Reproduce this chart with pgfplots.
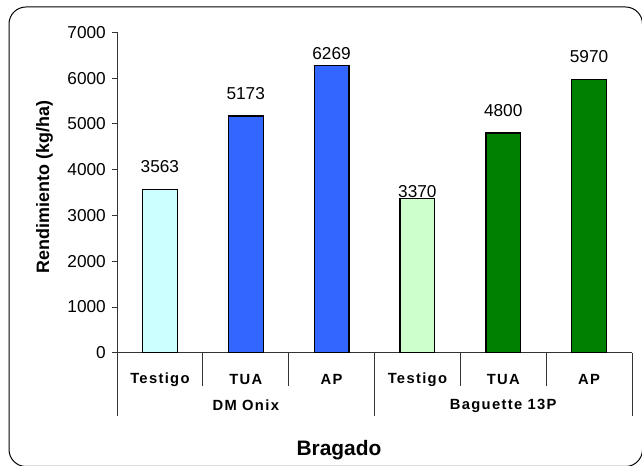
\documentclass[border=0pt]{standalone}
\usepackage{fontspec}
\setmainfont{Liberation Sans}
\newfontfamily\spaced[LetterSpace=9]{Liberation Sans}
\usepackage{pgfplots}
\pgfplotsset{compat=1.18}
\definecolor{c1}{HTML}{CCFFFF}
\definecolor{c2}{HTML}{3366FF}
\definecolor{c3}{HTML}{CCFFCC}
\definecolor{c4}{HTML}{008000}
\begin{document}
\begin{tikzpicture}
\path[use as bounding box] (0,0) rectangle (642bp,466bp);
\draw[line width=1bp, rounded corners=17bp] (9bp,459bp) rectangle (642.5bp,-0.5bp);
\begin{axis}[
  at={(117bp,113.3bp)}, anchor=south west,
  scale only axis, width=515bp, height=320.4bp,
  xmin=-0.5, xmax=5.5, ymin=0, ymax=7000,
  axis lines*=left,
  axis line style={black!80, line width=0.8bp},
  clip=false,
  ytick={0,1000,...,7000},
  ytick style={black!80, line width=0.8bp},
  tick align=outside, major tick length=4.7bp,
  xtick={0,...,5},
  xticklabels={Testigo,TUA,AP,Testigo,TUA,AP},
  xtick style={draw=none},
  /pgf/number format/1000 sep={},
  /pgf/number format/assume math mode=true,
  yticklabel style={font=\fontsize{17.3}{19}\selectfont, anchor=east, xshift=-3bp},
  xticklabel style={font=\spaced\bfseries\fontsize{14.8}{16}\selectfont, anchor=center, yshift=-22.3bp},
  every node near coord/.append style={font=\fontsize{17.3}{19}\selectfont, anchor=center, text=black},
]
\addplot[ybar, bar width=34.7bp, fill=c1, draw=black, line width=1.2bp, nodes near coords,
  every node near coord/.append style={yshift=22.6bp}] coordinates {(0,3563)};
\addplot[ybar, bar width=34.7bp, fill=c2, draw=black, line width=1.2bp, nodes near coords,
  every node near coord/.append style={yshift=22.6bp}] coordinates {(1,5173)};
\addplot[ybar, bar width=34.7bp, fill=c2, draw=black, line width=1.2bp, nodes near coords,
  every node near coord/.append style={yshift=12.5bp}] coordinates {(2,6269)};
\addplot[ybar, bar width=34.7bp, fill=c3, draw=black, line width=1.2bp, nodes near coords,
  every node near coord/.append style={yshift=6.8bp}] coordinates {(3,3370)};
\addplot[ybar, bar width=34.7bp, fill=c4, draw=black, line width=1.2bp, nodes near coords,
  every node near coord/.append style={yshift=22.6bp}] coordinates {(4,4800)};
\addplot[ybar, bar width=34.7bp, fill=c4, draw=black, line width=1.2bp, nodes near coords,
  every node near coord/.append style={yshift=22.6bp}] coordinates {(5,5970)};
% category separators
\pgfplotsinvokeforeach{0.5,1.5,3.5,4.5}{
  \draw[black!80, line width=0.8bp] (axis cs:#1,0) -- ([yshift=-33bp]axis cs:#1,0);
}
\pgfplotsinvokeforeach{-0.5,2.5,5.5}{
  \draw[black!80, line width=0.8bp] (axis cs:#1,0) -- ([yshift=-63.3bp]axis cs:#1,0);
}
\node[font=\spaced\bfseries\fontsize{14.8}{16}\selectfont] at ([yshift=-53bp]axis cs:1,0) {DM Onix};
\node[font=\spaced\bfseries\fontsize{14.8}{16}\selectfont] at ([yshift=-53bp]axis cs:4,0) {Baguette 13P};
\end{axis}
\node[rotate=90, font=\bfseries\fontsize{18}{20}\selectfont] at (44.5bp,279bp) {Rendimiento (kg/ha)};
\node[font=\bfseries\fontsize{21}{24}\selectfont] at (339bp,16bp) {Bragado};
\end{tikzpicture}
\end{document}
